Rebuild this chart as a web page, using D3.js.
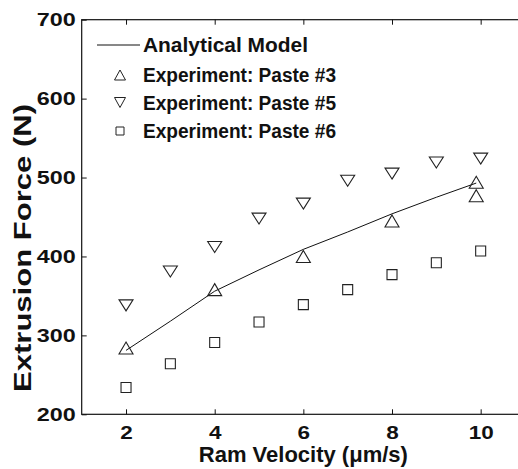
<!DOCTYPE html>
<html>
<head>
<meta charset="utf-8">
<script src="https://cdn.jsdelivr.net/npm/d3@7"></script>
<style>
  html, body { margin: 0; padding: 0; background: #fff; }
  svg { display: block; }
  text { font-family: "Liberation Sans", Arial, Helvetica, sans-serif; font-weight: bold; fill: #111; }
</style>
</head>
<body>
<svg id="chart" width="518" height="469"></svg>
<script>
// ---- data ----
const velocity = [2, 3, 4, 5, 6, 7, 8, 9, 10];
const paste5 = [338, 381, 412, 448, 467, 496, 505, 519, 524];
const paste6 = [234, 264, 291, 317, 339, 358, 377, 392, 407];
const paste3Velocity = [2, 4, 6, 8, 9.9, 9.9];
const paste3 = [284, 358, 400, 445, 494, 477];
const modelVelocity = [2, 3, 4, 5, 6, 7, 8, 9, 9.9];
const modelForce = [281, 318, 356, 383, 409, 431, 454, 475, 493];
const xTicks = [2, 4, 6, 8, 10];
const yTicks = [200, 300, 400, 500, 600, 700];
const legendLabels = ["Analytical Model", "Experiment: Paste #3", "Experiment: Paste #5", "Experiment: Paste #6"];

const svg = d3.select("#chart");
const x = d3.scaleLinear().domain([1, 11]).range([81.7, 525]);
const y = d3.scaleLinear().domain([200, 700]).range([414.3, 19.7]);

// axes box
svg.append("rect")
  .attr("x", x(1)).attr("y", y(700))
  .attr("width", x(11) - x(1)).attr("height", y(200) - y(700))
  .attr("fill", "none").attr("stroke", "#111").attr("stroke-width", 1.2);

// bottom axis
const gB = svg.append("g").attr("transform", `translate(0,${y(200)})`)
  .call(d3.axisBottom(x).tickValues(xTicks).tickSizeInner(-5).tickSizeOuter(0).tickPadding(12));
gB.select(".domain").remove();
gB.selectAll("text").style("font-size", "18px").attr("fill", "#111")
  .attr("transform", "scale(1.25,1)");

// top axis
const gT = svg.append("g").attr("transform", `translate(0,${y(700)})`)
  .call(d3.axisTop(x).tickValues(xTicks).tickSizeInner(-5).tickSizeOuter(0).tickFormat(""));
gT.select(".domain").remove();

// left axis
const gL = svg.append("g").attr("transform", `translate(${x(1)},0)`)
  .call(d3.axisLeft(y).tickValues(yTicks).tickSizeInner(-5).tickSizeOuter(0).tickPadding(6));
gL.select(".domain").remove();
gL.selectAll("text").style("font-size", "18px").attr("fill", "#111")
  .attr("textLength", 39).attr("lengthAdjust", "spacingAndGlyphs");

// right axis
const gR = svg.append("g").attr("transform", `translate(${x(11)},0)`)
  .call(d3.axisRight(y).tickValues(yTicks).tickSizeInner(-5).tickSizeOuter(0).tickFormat(""));
gR.select(".domain").remove();

svg.selectAll(".tick line").attr("stroke", "#111").attr("stroke-width", 1);

// axis titles
svg.append("text")
  .attr("x", (x(1) + x(11)) / 2).attr("y", 461.5)
  .attr("text-anchor", "middle").style("font-size", "22px")
  .text("Ram Velocity (\u03bcm/s)");

svg.append("text")
  .attr("transform", `translate(31,248) rotate(-90)`)
  .attr("text-anchor", "middle").style("font-size", "24px")
  .attr("textLength", 288).attr("lengthAdjust", "spacingAndGlyphs")
  .text("Extrusion Force (N)");

// marker shapes (bbox-centred like MATLAB)
const triUp = (w, h) => `M0,${-h/2}L${w/2},${h/2}L${-w/2},${h/2}Z`;
const triDown = (w, h) => `M0,${h/2}L${w/2},${-h/2}L${-w/2},${-h/2}Z`;
const square = s => `M${-s/2},${-s/2}h${s}v${s}h${-s}Z`;
const mk = { fill: "none", stroke: "#222", "stroke-width": 1.1 };

// analytical model line
svg.append("path")
  .datum(modelVelocity.map((v, i) => [v, modelForce[i]]))
  .attr("fill", "none").attr("stroke", "#111").attr("stroke-width", 1)
  .attr("d", d3.line().x(d => x(d[0])).y(d => y(d[1])));

// paste #3 (up triangles)
svg.append("g").selectAll("path")
  .data(paste3Velocity.map((v, i) => [v, paste3[i]]))
  .join("path")
  .attr("transform", d => `translate(${x(d[0])},${y(d[1])})`)
  .attr("d", triUp(14, 12))
  .attr("fill", mk.fill).attr("stroke", mk.stroke).attr("stroke-width", mk["stroke-width"]);

// paste #5 (down triangles)
svg.append("g").selectAll("path")
  .data(velocity.map((v, i) => [v, paste5[i]]))
  .join("path")
  .attr("transform", d => `translate(${x(d[0])},${y(d[1])})`)
  .attr("d", triDown(14, 11))
  .attr("fill", mk.fill).attr("stroke", mk.stroke).attr("stroke-width", mk["stroke-width"]);

// paste #6 (squares)
svg.append("g").selectAll("path")
  .data(velocity.map((v, i) => [v, paste6[i]]))
  .join("path")
  .attr("transform", d => `translate(${x(d[0])},${y(d[1])})`)
  .attr("d", square(10))
  .attr("fill", mk.fill).attr("stroke", mk.stroke).attr("stroke-width", mk["stroke-width"]);

// legend
const lg = svg.append("g");
const rowY = [45, 75, 102.5, 131];
const legendTextLength = [165, 193, 193, 193];
lg.append("line").attr("x1", 97).attr("x2", 140).attr("y1", rowY[0]).attr("y2", rowY[0])
  .attr("stroke", "#111").attr("stroke-width", 1);
lg.append("path").attr("transform", `translate(120,${rowY[1]})`).attr("d", triUp(11, 10))
  .attr("fill", "none").attr("stroke", "#222");
lg.append("path").attr("transform", `translate(120,${rowY[2]})`).attr("d", triDown(11, 10))
  .attr("fill", "none").attr("stroke", "#222");
lg.append("path").attr("transform", `translate(120,${rowY[3]})`).attr("d", square(8))
  .attr("fill", "none").attr("stroke", "#222");
lg.selectAll("text.leg").data(legendLabels).join("text")
  .attr("class", "leg")
  .attr("x", 143).attr("y", (d, i) => rowY[i] + 7)
  .style("font-size", "20px")
  .attr("textLength", (d, i) => legendTextLength[i]).attr("lengthAdjust", "spacingAndGlyphs")
  .text(d => d);
</script>
</body>
</html>
